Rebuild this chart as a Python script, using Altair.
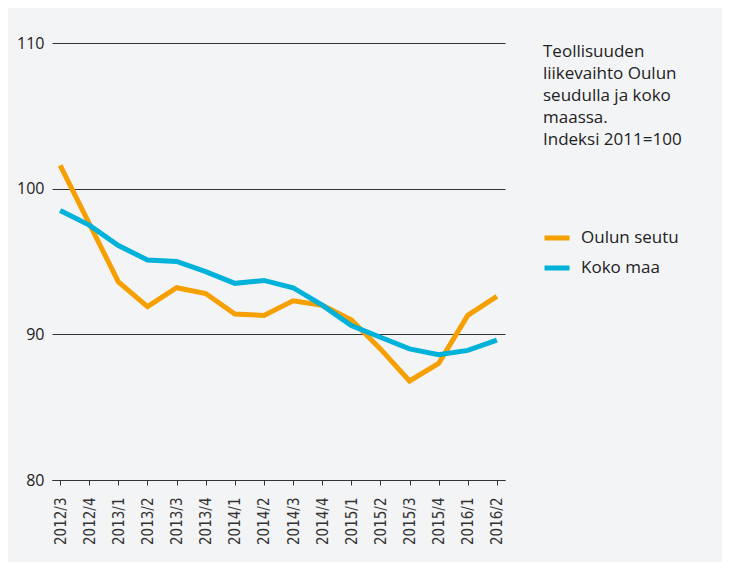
import altair as alt
import pandas as pd

quarters = ["2012/3", "2012/4", "2013/1", "2013/2", "2013/3", "2013/4",
            "2014/1", "2014/2", "2014/3", "2014/4", "2015/1", "2015/2",
            "2015/3", "2015/4", "2016/1", "2016/2"]
oulun_seutu = [101.6, 97.6, 93.6, 91.9, 93.2, 92.8, 91.4, 91.3,
               92.3, 92.0, 91.0, 89.0, 86.8, 88.0, 91.3, 92.6]
koko_maa = [98.5, 97.5, 96.1, 95.1, 95.0, 94.3, 93.5, 93.7,
            93.2, 92.0, 90.6, 89.8, 89.0, 88.6, 88.9, 89.6]
series_names = ["Oulun seutu", "Koko maa"]
series_colors = ["#f59f00", "#00b1d9"]
title_lines = ["Teollisuuden", "liikevaihto Oulun", "seudulla ja koko",
               "maassa.", "Indeksi 2011=100"]
y_ticks = [80, 90, 100, 110]

rows = []
for q, a, b in zip(quarters, oulun_seutu, koko_maa):
    rows.append({"q": q, "series": series_names[0], "v": a})
    rows.append({"q": q, "series": series_names[1], "v": b})
df = pd.DataFrame(rows)

lines = alt.Chart(df).mark_line(strokeWidth=5, strokeJoin="miter").encode(
    x=alt.X("q:N", sort=quarters,
            scale=alt.Scale(type="point", padding=0.28),
            axis=alt.Axis(title=None, labelAngle=270, labelFont="DejaVu Sans Condensed",
                          labelFontSize=15, labelFontWeight="normal", labelColor="#333",
                          tickColor="#333", tickSize=5, domainColor="#333",
                          labelPadding=12, grid=False)),
    y=alt.Y("v:Q", scale=alt.Scale(domain=[80, 110], nice=False, zero=False),
            axis=alt.Axis(title=None, values=y_ticks, domain=False, ticks=False,
                          labelFont="Open Sans", labelFontSize=16, labelColor="#222",
                          labelPadding=8, grid=True, gridColor="#333",
                          gridOpacity=1, gridWidth=1)),
    color=alt.Color("series:N", sort=series_names,
                    scale=alt.Scale(domain=series_names, range=series_colors),
                    legend=alt.Legend(title=None, orient="none", legendX=490, legendY=180,
                                      symbolType="stroke", symbolSize=625,
                                      symbolStrokeWidth=5, labelFont="Open Sans",
                                      labelFontSize=17, labelColor="#222",
                                      labelOffset=9, rowPadding=5)),
)

title_df = pd.DataFrame({"t": ["\n".join(title_lines)]})
title = alt.Chart(title_df).mark_text(
    align="left", baseline="alphabetic", lineBreak="\n", lineHeight=22,
    font="Open Sans", fontSize=17, color="#222"
).encode(text="t:N", x=alt.value(491), y=alt.value(14))

chart = alt.layer(lines, title).properties(
    width=453, height=437,
    autosize=alt.AutoSizeParams(type="none"),
    padding={"left": 44, "top": 35, "right": 217, "bottom": 82},
    background="#f3f4f6",
).configure_view(stroke=None)

chart.save("out.html", embed_options={"renderer": "svg", "actions": False})
